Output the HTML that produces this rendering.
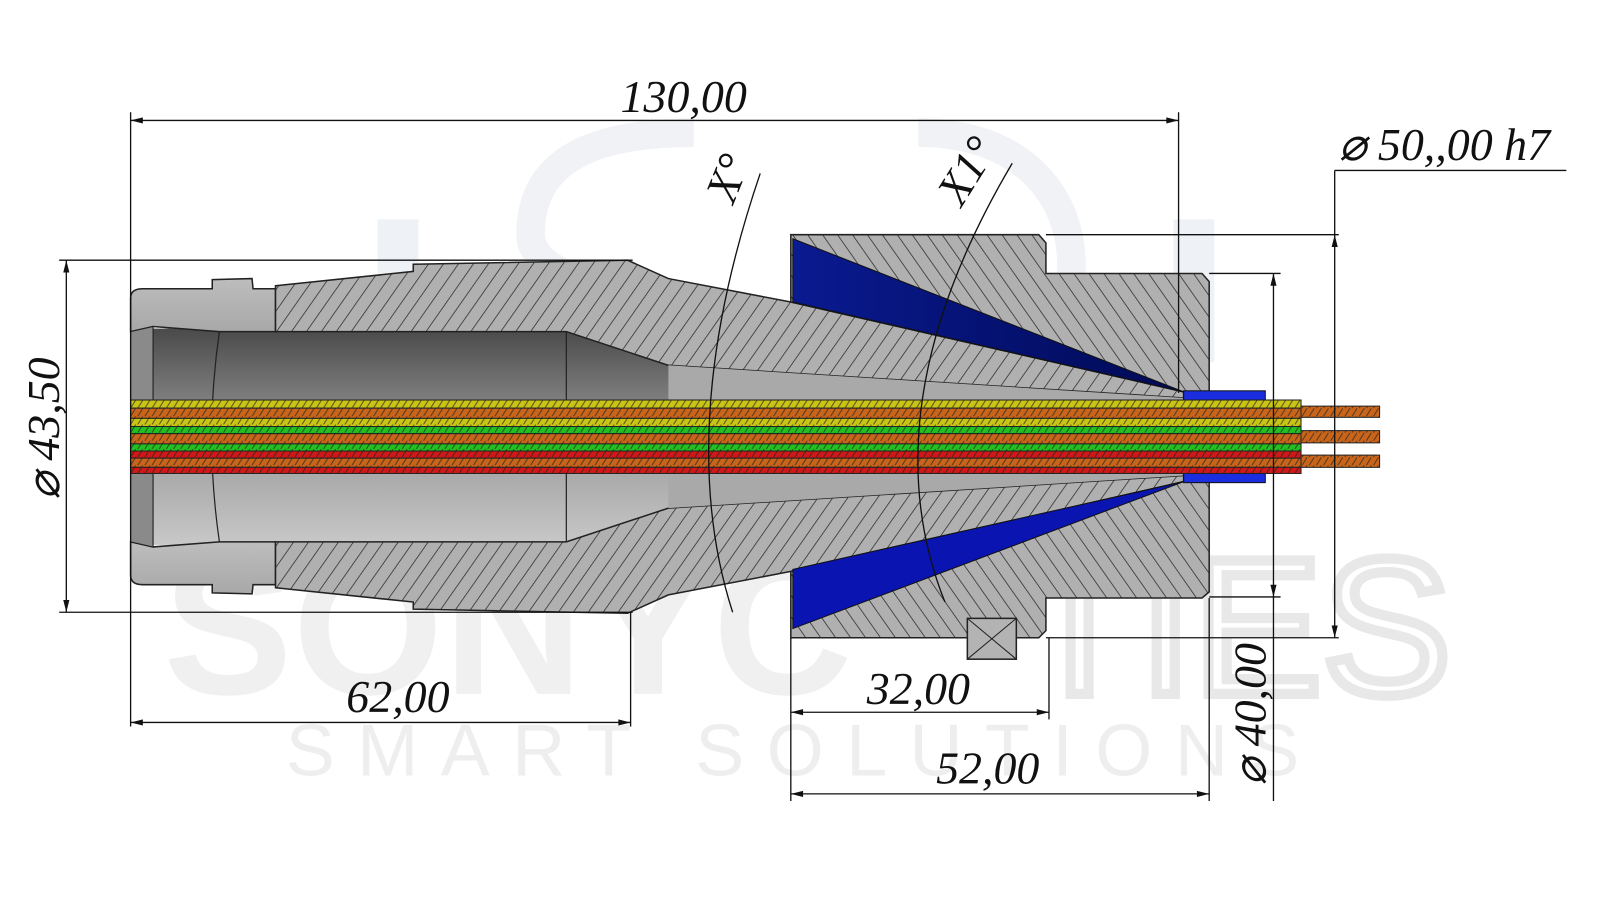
<!DOCTYPE html>
<html><head><meta charset="utf-8"><style>
html,body{margin:0;padding:0;background:#fff;width:1600px;height:900px;overflow:hidden}
text{font-family:"Liberation Serif",serif;font-style:italic;fill:#111}
</style></head><body>
<svg width="1600" height="900" viewBox="0 0 1568 882" xmlns="http://www.w3.org/2000/svg">
<defs>
<pattern id="h1" width="12" height="12" patternUnits="userSpaceOnUse" patternTransform="rotate(35)">
<rect width="12" height="12" fill="#b0b0b0"/><line x1="0" y1="0" x2="0" y2="12" stroke="#222" stroke-width="1.4"/></pattern>
<pattern id="h2" width="12" height="12" patternUnits="userSpaceOnUse" patternTransform="rotate(-35)">
<rect width="12" height="12" fill="#b0b0b0"/><line x1="0" y1="0" x2="0" y2="12" stroke="#222" stroke-width="1.4"/></pattern>
<pattern id="ch" width="14" height="8" patternUnits="userSpaceOnUse">
<path d="M2 8 L7 0 M9 8 L14 0" stroke="#222" stroke-width="1" opacity="0.7"/></pattern>
<linearGradient id="cav" x1="0" y1="0" x2="0" y2="1">
<stop offset="0" stop-color="#4a4a4a"/><stop offset="0.5" stop-color="#999"/><stop offset="1" stop-color="#c8c8c8"/></linearGradient>
<linearGradient id="nose" x1="0" y1="0" x2="0" y2="1">
<stop offset="0" stop-color="#bdbdbd"/><stop offset="1" stop-color="#a8a8a8"/></linearGradient>
<linearGradient id="blue" x1="0" y1="0" x2="1" y2="0">
<stop offset="0" stop-color="#0a1a90"/><stop offset="1" stop-color="#000a55"/></linearGradient>
</defs>

<g fill="none" stroke="#f0f2f5" stroke-width="28">
<path d="M680 130 C560 130 520 170 520 230 C520 300 760 290 760 370"/>
<path d="M900 130 C1000 130 1050 190 1050 260 C1050 330 1000 370 900 370"/>
</g>
<rect x="370" y="215" width="40" height="140" fill="#eef2f6"/>
<rect x="1150" y="215" width="40" height="140" fill="#eef2f6"/>
<text x="160" y="680" style="font-family:'Liberation Sans',sans-serif;font-style:normal;font-size:190px;fill:#f0f0f0;font-weight:bold">SONYC</text>
<text x="1000" y="680" style="font-family:'Liberation Sans',sans-serif;font-style:normal;font-size:190px;fill:none;stroke:#e8e8e8;stroke-width:10">TIES</text>
<text x="280" y="760" style="font-family:'Liberation Sans',sans-serif;font-style:normal;font-size:72px;fill:#eeeeee;letter-spacing:22px">SMART SOLUTIONS</text>

<rect x="140" y="322" width="600" height="212" fill="url(#cav)"/>
<path d="M128 292 Q128 283 140 283 L208 283 L208 274 L247 273 L248 283 L270 283 L270 325 L215 325 L150 320 L128 325 Z" fill="url(#nose)" stroke="#222" stroke-width="1.5"/>
<path d="M128 531 L150 536 L215 531 L270 531 L270 573 L248 573 L247 582 L208 581 L208 573 L140 573 Q128 573 128 564 Z" fill="url(#nose)" stroke="#222" stroke-width="1.5"/>
<path d="M128 325 L150 320 L150 536 L128 531 Z" fill="#8a8a8a" stroke="#222" stroke-width="1"/>
<path d="M215 325 Q200 428 215 531" fill="none" stroke="#222" stroke-width="1.2"/>
<line x1="150" y1="320" x2="150" y2="536" stroke="#222" stroke-width="1"/>
<line x1="555" y1="325" x2="555" y2="531" stroke="#222" stroke-width="1.2"/>
<path d="M655 358 Q700 390 695 428 Q700 470 655 500" fill="none" stroke="#222" stroke-width="1.2"/>

<path d="M270 280 L405 266 L405 259 L615 255 L655 273 L775 296 L1160 384 L1160 390 L655 358 L555 325 L270 325 Z" fill="url(#h1)" stroke="#222" stroke-width="1.5"/>
<path d="M270 576 L405 590 L405 597 L615 601 L655 583 L775 560 L1160 472 L1160 466 L655 498 L555 531 L270 531 Z" fill="url(#h1)" stroke="#222" stroke-width="1.5"/>
<path d="M655 358 L1160 390 L1160 466 L655 498 Z" fill="#a9a9a9"/>

<path d="M775 230 L1018 230 L1025 238 L1025 268 L1178 268 L1185 276 L1185 580 L1178 586 L1025 586 L1025 618 L1018 625 L775 625 L775 560 L1160 472 L1160 384 L775 296 Z" fill="url(#h2)" stroke="#222" stroke-width="1.5"/>
<path d="M777 234 L1160 384 L777 296 Z" fill="url(#blue)" stroke="#111" stroke-width="1"/>
<path d="M777 616 L1160 472 L777 558 Z" fill="#0a14b0" stroke="#111" stroke-width="1"/>
<rect x="948" y="606" width="48" height="40" fill="#b3b3b3" stroke="#222" stroke-width="1.5"/>
<path d="M948 606 L996 646 M996 606 L948 646" stroke="#222" stroke-width="1"/>
<rect x="1160" y="383" width="80" height="10" fill="#1a2ee0" stroke="#111"/>
<rect x="1160" y="463" width="80" height="10" fill="#1a2ee0" stroke="#111"/>

<g stroke="#222" stroke-width="1">
<rect x="128" y="392" width="1147" height="8" fill="#c9c415"/>
<rect x="128" y="400" width="1147" height="10" fill="#c8651a"/>
<rect x="128" y="410" width="1147" height="8" fill="#c9c415"/>
<rect x="128" y="418" width="1147" height="7" fill="#22c020"/>
<rect x="128" y="425" width="1147" height="10" fill="#c8651a"/>
<rect x="128" y="435" width="1147" height="7" fill="#22c020"/>
<rect x="128" y="442" width="1147" height="7" fill="#d01818"/>
<rect x="128" y="449" width="1147" height="9" fill="#c8651a"/>
<rect x="128" y="458" width="1147" height="6" fill="#d01818"/>
<rect x="1275" y="398" width="77" height="11" fill="#c8651a"/>
<rect x="1275" y="422" width="77" height="12" fill="#c8651a"/>
<rect x="1275" y="446" width="77" height="12" fill="#c8651a"/>
</g>
<rect x="128" y="392" width="1147" height="72" fill="url(#ch)"/>
<rect x="1275" y="398" width="77" height="11" fill="url(#ch)"/>
<rect x="1275" y="422" width="77" height="12" fill="url(#ch)"/>
<rect x="1275" y="446" width="77" height="12" fill="url(#ch)"/>

<g stroke="#111" stroke-width="1.3" fill="none">
<line x1="128" y1="110" x2="128" y2="712"/>
<line x1="1155" y1="110" x2="1155" y2="385"/>
<line x1="128" y1="118" x2="1155" y2="118"/>
<line x1="58" y1="255" x2="620" y2="255"/>
<line x1="58" y1="600" x2="620" y2="600"/>
<line x1="65" y1="255" x2="65" y2="600"/>
<line x1="618" y1="600" x2="618" y2="712"/>
<line x1="128" y1="708" x2="618" y2="708"/>
<line x1="775" y1="625" x2="775" y2="785"/>
<line x1="1028" y1="625" x2="1028" y2="705"/>
<line x1="775" y1="698" x2="1028" y2="698"/>
<line x1="1185" y1="586" x2="1185" y2="785"/>
<line x1="775" y1="778" x2="1185" y2="778"/>
<line x1="1185" y1="268" x2="1255" y2="268"/>
<line x1="1185" y1="585" x2="1255" y2="585"/>
<line x1="1248" y1="268" x2="1248" y2="785"/>
<line x1="1025" y1="230" x2="1312" y2="230"/>
<line x1="1025" y1="625" x2="1312" y2="625"/>
<line x1="1308" y1="167" x2="1308" y2="625"/>
<line x1="1308" y1="167" x2="1535" y2="167"/>
<path d="M745 170 Q660 420 718 600"/>
<path d="M992 160 Q850 400 926 590"/>
</g>
<g fill="#111">
<path d="M128 118 l12 -3 v6z"/><path d="M1155 118 l-12 -3 v6z"/>
<path d="M65 255 l-3 12 h6z"/><path d="M65 600 l-3 -12 h6z"/>
<path d="M128 708 l12 -3 v6z"/><path d="M618 708 l-12 -3 v6z"/>
<path d="M775 698 l12 -3 v6z"/><path d="M1028 698 l-12 -3 v6z"/>
<path d="M775 778 l12 -3 v6z"/><path d="M1185 778 l-12 -3 v6z"/>
<path d="M1248 268 l-3 12 h6z"/><path d="M1248 585 l-3 -12 h6z"/>
<path d="M1308 230 l-3 12 h6z"/><path d="M1308 625 l-3 -12 h6z"/>
</g>
<g font-size="45">
<text x="670" y="110" text-anchor="middle">130,00</text>
<text x="390" y="698" text-anchor="middle">62,00</text>
<text x="900" y="690" text-anchor="middle">32,00</text>
<text x="968" y="768" text-anchor="middle">52,00</text>
<text transform="translate(58,420) rotate(-90)" text-anchor="middle">⌀ 43,50</text>
<text transform="translate(1240,700) rotate(-90)" text-anchor="middle">⌀ 40,00</text>
<text x="1312" y="157">⌀ 50,,00 h7</text>
<text transform="translate(727,180) rotate(-68)" text-anchor="middle">X°</text>
<text transform="translate(960,175) rotate(-58)" text-anchor="middle">X1°</text>
</g>
</svg>
</body></html>
